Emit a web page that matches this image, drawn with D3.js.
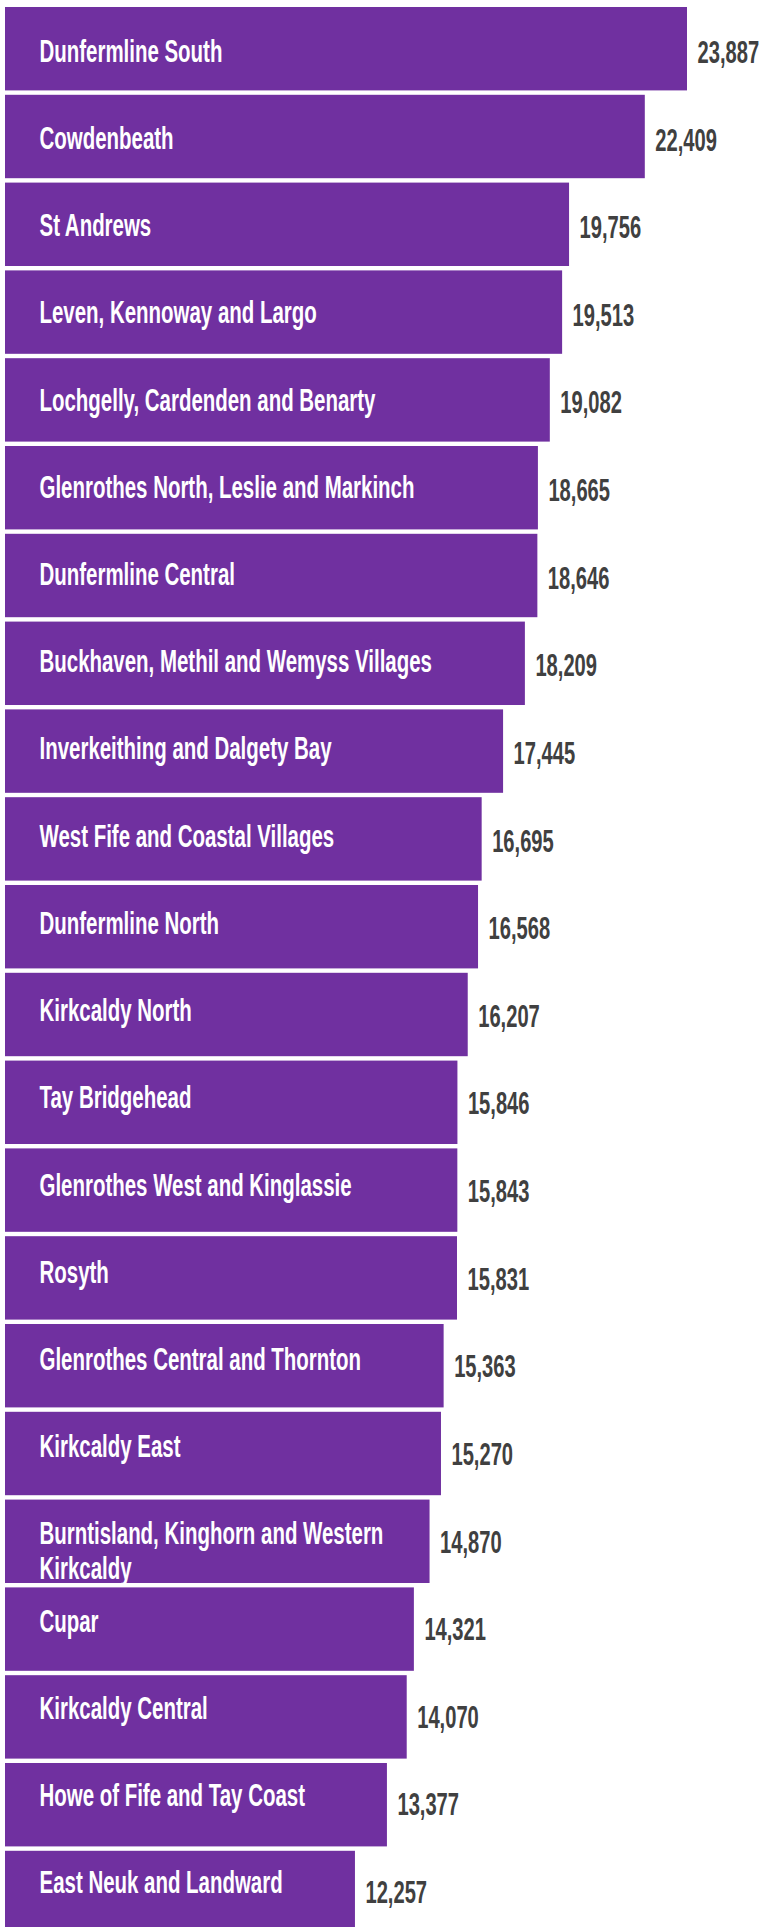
<!DOCTYPE html>
<html>
<head>
<meta charset="utf-8">
<script src="https://cdn.jsdelivr.net/npm/d3@7"></script>
<style>
  body { margin: 0; background: #ffffff; overflow: hidden; }
  #chart svg { display: block; }
</style>
</head>
<body>
<div id="chart"></div>
<script>
// Wards and population values (top to bottom)
const wards = [
  "Dunfermline South",
  "Cowdenbeath",
  "St Andrews",
  "Leven, Kennoway and Largo",
  "Lochgelly, Cardenden and Benarty",
  "Glenrothes North, Leslie and Markinch",
  "Dunfermline Central",
  "Buckhaven, Methil and Wemyss Villages",
  "Inverkeithing and Dalgety Bay",
  "West Fife and Coastal Villages",
  "Dunfermline North",
  "Kirkcaldy North",
  "Tay Bridgehead",
  "Glenrothes West and Kinglassie",
  "Rosyth",
  "Glenrothes Central and Thornton",
  "Kirkcaldy East",
  "Burntisland, Kinghorn and Western Kirkcaldy",
  "Cupar",
  "Kirkcaldy Central",
  "Howe of Fife and Tay Coast",
  "East Neuk and Landward"
];
const population = [
  23887, 22409, 19756, 19513, 19082, 18665, 18646, 18209, 17445, 16695, 16568,
  16207, 15846, 15843, 15831, 15363, 15270, 14870, 14321, 14070, 13377, 12257
];

// Set Dimensions
const width = 763;
const height = 1927;
const barColor = "#7030a0";
const valueColor = "#404040";
const fontFamily = "'Liberation Sans', Arial, sans-serif";
// the labels are a condensed face, so squeeze the regular one
const wardSqueeze = 0.66;
const valueSqueeze = 0.65;

const svg = d3.select("#chart")
  .append("svg")
  .attr("width", width)
  .attr("height", height);

// X scale: value to bar length
const x = d3.scaleLinear()
  .domain([0, d3.max(population)])
  .range([5, 687]);

// Y scale: one band per ward
const y = d3.scaleBand()
  .domain(wards)
  .range([4.8, 4.8 + wards.length * 87.8])
  .paddingInner(0.05)
  .paddingOuter(0.025);

// Baselines of the labels (ward names sit a bit higher further down)
const yWard = d3.scalePoint()
  .domain(wards)
  .range([61.7, 1893.3]);
const yValue = d3.scalePoint()
  .domain(wards)
  .range([63, 1903]);

const rows = svg.selectAll("g.row")
  .data(wards)
  .enter()
  .append("g")
  .attr("class", "row");

// Bars
rows.append("rect")
  .attr("x", x(0))
  .attr("y", d => y(d))
  .attr("width", (d, i) => x(population[i]) - x(0))
  .attr("height", y.bandwidth())
  .attr("fill", barColor);

// Ward labels inside the bars
rows.append("text")
  .attr("class", "ward")
  .attr("transform", d => "translate(39.5," + yWard(d) + ") scale(" + wardSqueeze + ",1)")
  .attr("fill", "#ffffff")
  .style("font-family", fontFamily)
  .style("font-weight", "bold")
  .style("font-size", "31px")
  .text(d => d)
  .each(function(){ wrap(d3.select(this), 420 / wardSqueeze, 35); });

// Value labels at bar ends
rows.append("text")
  .attr("class", "value")
  .attr("transform", (d, i) => "translate(" + (x(population[i]) + 10.5) + "," + yValue(d) + ") scale(" + valueSqueeze + ",1)")
  .attr("fill", valueColor)
  .style("font-family", fontFamily)
  .style("font-weight", "bold")
  .style("font-size", "31px")
  .text((d, i) => d3.format(",")(population[i]));

// Simple word wrap for long labels
function wrap(text, maxWidth, lineHeight){
  const words = text.text().split(/\s+/);
  text.text(null);
  let line = [];
  let lineNo = 0;
  let tspan = text.append("tspan").attr("x", 0).attr("y", 0);
  words.forEach(w => {
    line.push(w);
    tspan.text(line.join(" "));
    if (tspan.node().getComputedTextLength() > maxWidth && line.length > 1) {
      line.pop();
      tspan.text(line.join(" "));
      line = [w];
      lineNo++;
      tspan = text.append("tspan")
        .attr("x", 0)
        .attr("y", lineNo * lineHeight)
        .text(w);
    }
  });
}
</script>
</body>
</html>
